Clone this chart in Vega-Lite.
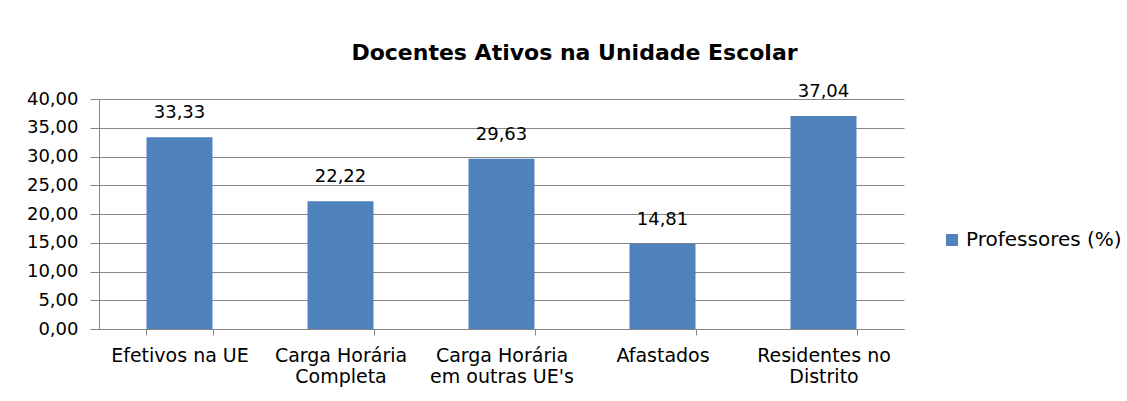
{
  "$schema": "https://vega.github.io/schema/vega-lite/v6.json",
  "width": 805,
  "height": 230,
  "autosize": {"type": "none"},
  "padding": {"left": 99, "top": 99, "right": 223, "bottom": 72},
  "background": "white",
  "config": {
    "locale": {"number": {"decimal": ",", "thousands": ".", "grouping": [3], "currency": ["", ""]}},
    "view": {"stroke": null},
    "font": "DejaVu Sans"
  },
  "title": {
    "text": "Docentes Ativos na Unidade Escolar",
    "font": "DejaVu Sans",
    "fontSize": 22,
    "fontWeight": "bold",
    "color": "black",
    "anchor": "middle",
    "baseline": "alphabetic",
    "dx": 73,
    "offset": 1
  },
  "data": {
    "values": [
      {"cat": "Efetivos na UE", "value": 33.33, "series": "Professores (%)"},
      {"cat": "Carga Horária\nCompleta", "value": 22.22, "series": "Professores (%)"},
      {"cat": "Carga Horária\nem outras UE's", "value": 29.63, "series": "Professores (%)"},
      {"cat": "Afastados", "value": 14.81, "series": "Professores (%)"},
      {"cat": "Residentes no\nDistrito", "value": 37.04, "series": "Professores (%)"}
    ]
  },
  "encoding": {
    "x": {
      "field": "cat",
      "type": "nominal",
      "sort": null,
      "scale": {"paddingInner": 0.59, "paddingOuter": 0.295},
      "axis": {
        "title": null,
        "labelAngle": 0,
        "tickBand": "extent",
        "grid": false,
        "domainColor": "#868686",
        "tickColor": "#868686",
        "tickSize": 6,
        "labelFont": "DejaVu Sans",
        "labelFontSize": 19,
        "labelColor": "black",
        "labelPadding": 11,
        "labelLineHeight": 21,
        "labelExpr": "split(datum.label, '\\n')"
      }
    },
    "y": {
      "field": "value",
      "type": "quantitative",
      "scale": {"domain": [0, 40]},
      "axis": {
        "title": null,
        "values": [0, 5, 10, 15, 20, 25, 30, 35, 40],
        "format": ".2f",
        "grid": true,
        "gridColor": "#868686",
        "domainColor": "#868686",
        "tickColor": "#868686",
        "tickSize": 9,
        "labelPadding": 12,
        "labelFont": "DejaVu Sans",
        "labelFontSize": 18,
        "labelColor": "black"
      }
    }
  },
  "layer": [
    {
      "mark": {"type": "bar", "color": "#4F81BD"},
      "encoding": {
        "color": {
          "field": "series",
          "type": "nominal",
          "scale": {"range": ["#4F81BD"]},
          "legend": {
            "title": null,
            "orient": "none",
            "legendX": 843,
            "legendY": 131,
            "padding": 0,
            "symbolType": "square",
            "symbolSize": 144,
            "symbolStrokeWidth": 0,
            "labelFont": "DejaVu Sans",
            "labelFontSize": 20,
            "labelColor": "black",
            "labelOffset": 4
          }
        }
      }
    },
    {
      "mark": {"type": "text", "dy": -19, "baseline": "alphabetic", "font": "DejaVu Sans", "fontSize": 18, "color": "black"},
      "encoding": {
        "text": {"field": "value", "type": "quantitative", "format": ".2f"}
      }
    }
  ]
}
